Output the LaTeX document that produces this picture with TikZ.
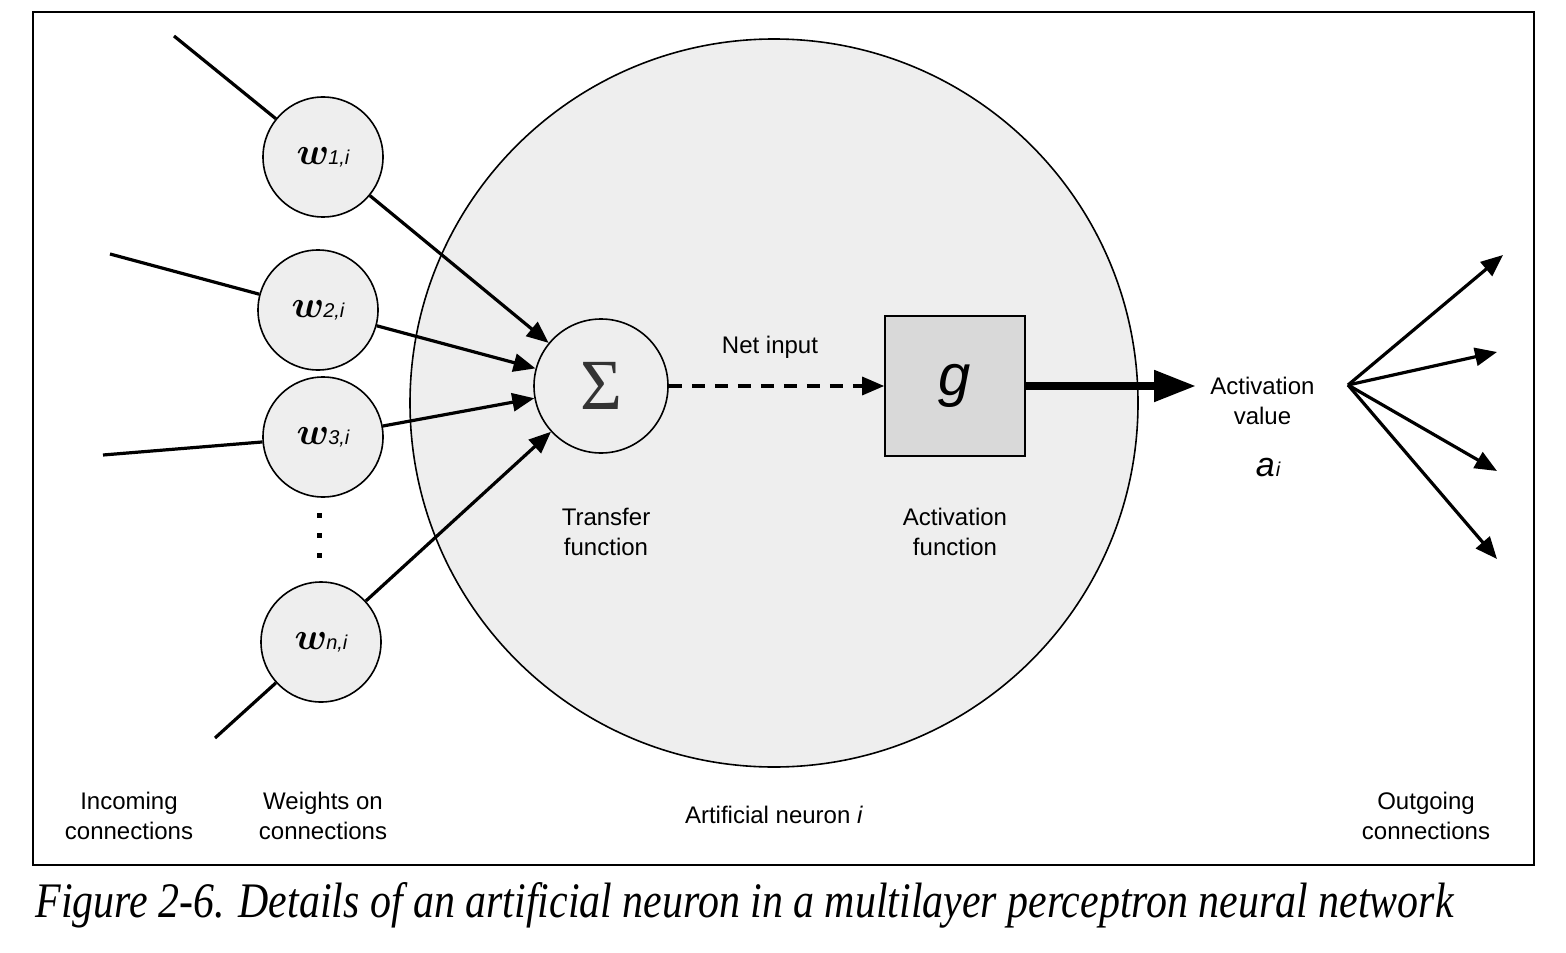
\documentclass[tikz,border=0pt]{standalone}
\usepackage{fontspec}
\setsansfont{Liberation Sans}
\newfontfamily\capfont{Liberation Serif}
\usepackage{amsmath,amssymb}
\usepackage{graphicx}
\usepackage{tikz}
\usetikzlibrary{arrows.meta, calc}

\definecolor{neuronfill}{HTML}{EEEEEE}
\definecolor{boxfill}{HTML}{D9D9D9}
\newcommand{\wlab}[1]{\scalebox{1.9}{$\boldsymbol{w}$}\kern-0.5pt{\sffamily\itshape\fontsize{10}{10}\selectfont #1,i}}

\begin{document}
\begin{tikzpicture}[x=0.5pt, y=-0.5pt,
    lbl/.style={font=\sffamily\fontsize{12}{15}\selectfont, align=center, inner sep=0pt},
    weight/.style={circle, draw, thick, fill=neuronfill, minimum size=60pt, inner sep=0pt},
    wire/.style={line width=1.6pt},
    arr/.style={line width=1.6pt, -{Triangle[length=11pt, width=9pt]}}]

  % -------------------------
  % Frame and neuron body
  % -------------------------
  \useasboundingbox (0,0) rectangle (1566,952);
  \draw[line width=0.7pt] (33,12) rectangle (1534,865);
  \filldraw[fill=neuronfill, draw=black, line width=0.8pt] (774,403) circle[radius=182pt];

  % Weights
  \node[weight] (w1) at (323,157) {\wlab{1}};
  \node[weight] (w2) at (318,310) {\wlab{2}};
  \node[weight] (w3) at (323,437) {\wlab{3}};
  \node[weight] (wn) at (321,642) {\wlab{n}};

  % Vertical dots
  \foreach \y in {515,535,555}
    \fill (316.5,\y-2.5) rectangle ++(5,5);

  % Incoming ends
  \coordinate (in1) at (174,36);
  \coordinate (in2) at (110,254);
  \coordinate (in3) at (103,455);
  \coordinate (inn) at (215,738);

  % Transfer and activation
  \node[circle, draw, thick, fill=neuronfill, minimum size=67pt, inner sep=0pt] (sum) at (601,386)
    {\capfont\fontsize{36}{36}\selectfont\color{black!80}Σ};
  \node[rectangle, draw, thick, fill=boxfill, minimum size=70pt, inner sep=0pt] (g) at (955,386)
    {\sffamily\itshape\fontsize{29}{29}\selectfont g};

  % Incoming lines and weighted inputs
  \draw[wire] (in1) -- (w1);
  \draw[wire] (in2) -- (w2);
  \draw[wire] (in3) -- (w3);
  \draw[wire] (inn) -- (wn);
  \draw[arr] (w1) -- (sum);
  \draw[arr] (w2) -- (sum);
  \draw[arr] (w3) -- (sum);
  \draw[arr] (wn) -- (sum);

  % Net input
  \draw[arr, dash pattern=on 6.5pt off 5pt] (sum) -- (g);
  \node[lbl] (net) at (770,347) {Net input};

  % Activation value
  \node[lbl, anchor=west] (act) at (1210,401) {Activation\\value};
  \coordinate (av) at (1196,386);
  \draw[line width=4pt, -{Triangle[length=21pt, width=15pt]}] (g) -- (av);
  \node[inner sep=0pt] (ai) at (1268,468)
    {\sffamily\itshape\fontsize{17}{17}\selectfont a\kern0.5pt{\fontsize{10}{10}\selectfont i}};

  % Outgoing fan
  \coordinate (fan) at (1348,385);
  \coordinate (o1) at (1503,255);
  \coordinate (o2) at (1497,352);
  \coordinate (o3) at (1497,471);
  \coordinate (o4) at (1497,559);
  \foreach \o in {o1,o2,o3,o4}
    \draw[arr] (fan) -- (\o);

  % Labels
  \node[lbl] (tf) at (606,532) {Transfer\\function};
  \node[lbl] (af) at (955,532) {Activation\\function};
  \node[lbl] (inc) at (129,816) {Incoming\\connections};
  \node[lbl] (won) at (323,816) {Weights on\\connections};
  \node[lbl] (an) at (774,815) {Artificial neuron \textit{i}};
  \node[lbl] (out) at (1426,816) {Outgoing\\connections};

  % Caption
  \node[anchor=base west, inner sep=0pt] (cap) at (35,917)
    {\resizebox{709pt}{17.5pt}{\capfont\itshape Figure 2-6. Details of an artificial neuron in a multilayer perceptron neural network}};
\end{tikzpicture}
\end{document}
